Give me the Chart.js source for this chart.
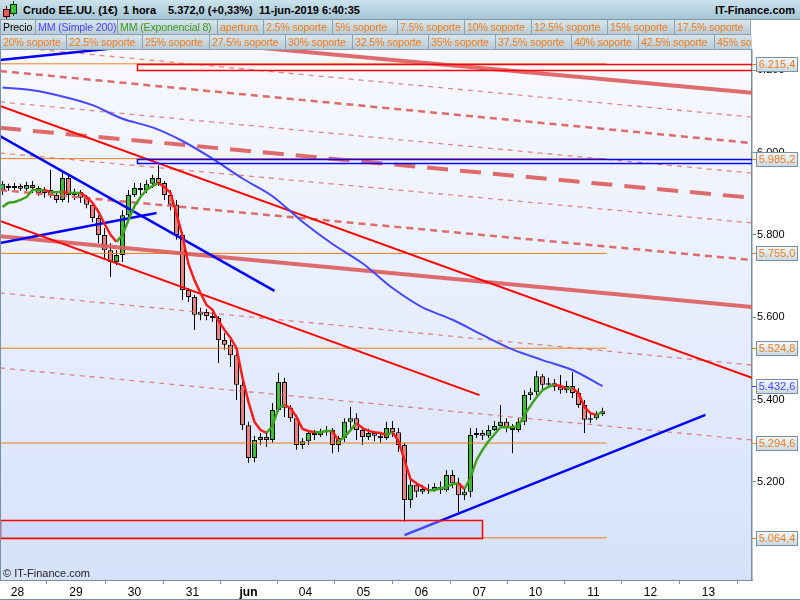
<!DOCTYPE html>
<html>
<head>
<meta charset="utf-8">
<script src="https://cdn.jsdelivr.net/npm/chart.js@4.4.0/dist/chart.umd.min.js"></script>
<style>
  body { margin: 0; background: #fff; font-family: "Liberation Sans", Arial, sans-serif; }
  #wrap { position: relative; width: 800px; height: 600px; overflow: hidden; }
  #c { position: absolute; left: 0; top: 0; }
  #top { position: absolute; left: 0; top: 0; width: 800px; height: 19px; border-bottom: 1px solid #7d96a6;
         background: linear-gradient(#cbe2ec, #a6c5d5); z-index: 2; font-weight: bold; font-size: 11px; color: #000; }
  #top span { position: absolute; top: 4px; white-space: nowrap; }
  #top i { position: absolute; display: block; box-sizing: border-box; }
  .row { position: absolute; left: 0; width: 752px; height: 15px; overflow: hidden; white-space: nowrap;
         z-index: 2; font-size: 10.6px; letter-spacing: -0.15px; border-left: 1px solid #8aa1b0; box-sizing: border-box; }
  .row span { display: inline-block; box-sizing: border-box; height: 15px; line-height: 14px; padding-left: 2px;
              border-right: 1px solid #8aa1b0; border-bottom: 1px solid #8aa1b0;
              background: linear-gradient(#d8e5ec, #b8cbd6); vertical-align: top; overflow: hidden; color: #f07d1e; }
</style>
</head>
<body>
<div id="wrap">
  <div id="top">
    <i style="left:6px;top:6px;width:1px;height:13px;background:#500"></i>
    <i style="left:3px;top:9px;width:7px;height:8px;background:#e25a5a;border:1px solid #400"></i>
    <i style="left:13px;top:1px;width:1px;height:15px;background:#040"></i>
    <i style="left:10px;top:4px;width:7px;height:10px;background:#3cc43c;border:1px solid #030"></i>
    <span style="left:23px">Crudo EE.UU. (1€)</span>
    <span style="left:123px">1 hora</span>
    <span style="left:168px">5.372,0 (+0,33%)</span>
    <span style="left:259px">11-jun-2019 6:40:35</span>
    <span style="right:5px">IT-Finance.com</span>
  </div>
  <div class="row" style="top:20px">
    <span style="width:35px;color:#000">Precio</span><span style="width:82px;color:#4646ff">MM (Simple 200)</span><span style="width:100px;color:#3c9a1e">MM (Exponencial 8)</span><span style="width:46px">apertura</span><span style="width:69px">2.5% soporte</span><span style="width:65px">5% soporte</span><span style="width:67px">7.5% soporte</span><span style="width:67px">10% soporte</span><span style="width:76px">12.5% soporte</span><span style="width:67px">15% soporte</span><span style="width:76px">17.5% soporte</span>
  </div>
  <div class="row" style="top:35px">
    <span style="width:66px">20% soporte</span><span style="width:76px">22.5% soporte</span><span style="width:67px">25% soporte</span><span style="width:76px">27.5% soporte</span><span style="width:67px">30% soporte</span><span style="width:76px">32.5% soporte</span><span style="width:67px">35% soporte</span><span style="width:76px">37.5% soporte</span><span style="width:67px">40% soporte</span><span style="width:76px">42.5% soporte</span><span style="width:76px">45% soporte</span>
  </div>
  <canvas id="c" width="800" height="600"></canvas>
</div>
<script>
// hourly candles, one entry per bar (bar index = x value)
const opens = [
  5909,5919,5914,5919,5912,5921,5914,5902,5909,5897,
  5885,5938,5897,5904,5890,5873,5841,5800,5763,5734,
  5751,5848,5897,5914,5909,5924,5938,5926,5897,5873,
  5800,5666,5649,5606,5613,5603,5598,5545,5533,5508,
  5436,5338,5258,5302,5309,5302,5375,5443,5380,5355,
  5290,5299,5319,5314,5321,5326,5290,5307,5346,5355,
  5326,5309,5319,5312,5307,5331,5321,5290,5156,5193,
  5176,5183,5180,5188,5180,5217,5197,5168,5176,5314,
  5319,5312,5326,5336,5346,5331,5326,5346,5411,5418,
  5457,5436,5440,5431,5423,5433,5416,5387,5351,5355,
  5365];
const highs = [
  5931,5924,5926,5924,5929,5931,5919,5916,5958,5904,
  5953,5943,5912,5909,5897,5878,5848,5817,5780,5763,
  5860,5909,5926,5926,5933,5946,5970,5931,5909,5885,
  5807,5671,5654,5623,5620,5613,5603,5562,5552,5521,
  5448,5346,5312,5319,5321,5392,5465,5453,5387,5363,
  5307,5326,5326,5329,5336,5331,5312,5355,5382,5367,
  5331,5329,5324,5321,5346,5348,5331,5295,5205,5200,
  5193,5195,5197,5202,5229,5229,5210,5185,5331,5331,
  5326,5338,5348,5387,5355,5341,5355,5423,5428,5470,
  5462,5453,5450,5460,5445,5467,5428,5399,5365,5372,
  5380];
const lows = [
  5897,5907,5909,5907,5907,5902,5895,5890,5890,5878,
  5880,5878,5885,5878,5865,5831,5780,5744,5698,5727,
  5734,5841,5892,5895,5902,5914,5919,5885,5860,5788,
  5642,5637,5569,5593,5593,5589,5489,5521,5479,5399,
  5326,5246,5248,5290,5285,5295,5370,5358,5346,5278,
  5280,5290,5302,5309,5312,5270,5273,5297,5326,5302,
  5290,5302,5299,5295,5302,5309,5273,5103,5137,5163,
  5171,5171,5176,5171,5176,5185,5127,5156,5163,5307,
  5302,5307,5324,5331,5321,5270,5321,5338,5399,5411,
  5421,5428,5421,5414,5416,5404,5380,5319,5343,5351,
  5360];
const closes = [
  5924,5914,5919,5912,5921,5914,5902,5909,5897,5885,
  5938,5897,5904,5890,5873,5841,5800,5763,5734,5751,
  5848,5897,5914,5909,5924,5938,5926,5897,5873,5800,
  5666,5649,5606,5613,5603,5598,5545,5533,5508,5436,
  5338,5258,5302,5309,5302,5375,5443,5380,5355,5290,
  5299,5319,5314,5321,5326,5290,5307,5346,5355,5326,
  5309,5319,5312,5307,5331,5321,5290,5156,5193,5176,
  5183,5180,5188,5180,5217,5197,5168,5176,5314,5319,
  5312,5326,5336,5346,5331,5326,5346,5411,5418,5457,
  5436,5440,5431,5423,5433,5416,5387,5351,5355,5365,
  5372];

// MM (Exponencial 8), one value per bar
const ema8 = [
  5868,5878,5880,5885,5892,5909,5909,5909,5904,5904,
  5904,5902,5902,5902,5892,5878,5856,5827,5800,5783,
  5800,5836,5870,5892,5909,5919,5926,5916,5902,5851,
  5797,5729,5690,5659,5630,5618,5591,5569,5550,5525,
  5453,5394,5346,5326,5319,5336,5380,5387,5380,5358,
  5329,5324,5321,5321,5324,5324,5299,5309,5326,5343,
  5331,5324,5321,5319,5314,5321,5299,5253,5207,5197,
  5188,5180,5180,5185,5188,5195,5197,5183,5210,5253,
  5278,5299,5316,5333,5333,5333,5336,5363,5385,5406,
  5423,5431,5436,5433,5428,5428,5416,5382,5367,5363,
  5370];

// MM (Simple 200), read every 5 bars
const maBars = [0,5,10,15,20,25,30,35,40,45,50,55,60,65,70,75,80,85,90,95,100];
const ma200 = [6158,6151,6136,6115,6082,6061,6028,5985,5937,5894,5832,5778,5731,5671,5624,5594,5557,5522,5496,5472,5432.6];

// x axis
const dayTickPos = [2.5,12.25,22,31.67,41,50.5,60.17,69.83,79.5,88.83,98.5,108,117.67];
const dayLabels = ['28','29','30','31','jun','04','05','06','07','10','11','12','13'];
const yTicks = [5200,5400,5600,5800,6000,6200];

// support levels
const levels = [6215.4,5985.2,5755.0,5524.8,5294.6,5064.4];

// descending channel, value at left edge and right edge
const channelLeft  = [6312,6259,6198,6123,6060,5999,5909,5797,5659,5477];
const channelRight = [6145,6086,6023,5950,5890,5829,5739,5625,5484,5302];
const channelKind  = ['thick','thin','medium','thin','heavy','thin','medium','thick','thin','thin'];

// trend lines [x1, y1, x2, y2]
const redLines  = [[-0.42,6113,124.92,5453],[-0.42,5834,79.5,5411]];
const blueLines = [[-0.42,6225,21.17,6257],[-0.42,6040,45.33,5664],[-0.42,5780,25.67,5853],[67,5071,117.17,5363]];

// zones
const zoneX1 = [22.4,22.4,-0.42];
const zoneX2 = [124.92,124.92,80];
const zoneLo = [6200.6,5975.0,5064.4];
const zoneHi = [6215.4,5985.2,5107.6];

const xMin = -0.42, xMax = 124.92;
const lastBar = 100.67;

const ORANGE = '#f07d1e';
const channelStyle = {
  thick:  { borderWidth: 4,   borderColor: 'rgba(220,92,92,0.9)',  borderDash: [] },
  thin:   { borderWidth: 1.3, borderColor: 'rgba(222,105,105,0.8)', borderDash: [5,5] },
  medium: { borderWidth: 2.5, borderColor: 'rgba(220,92,92,0.9)',  borderDash: [7,5] },
  heavy:  { borderWidth: 4,   borderColor: 'rgba(220,92,92,0.9)',  borderDash: [21,12] }
};
const zoneStyle = [
  { stroke: '#ff0000', fill: null },
  { stroke: '#0000ff', fill: null },
  { stroke: '#ff0000', fill: 'rgba(185,200,255,0.35)' }
];

function fmt(v, d) {
  const parts = v.toFixed(d).split('.');
  const ip = parts[0].replace(/\B(?=(\d{3})+(?!\d))/g, '.');
  return parts[1] ? ip + ',' + parts[1] : ip;
}

function seg(x1, y1, x2, y2, style, order) {
  return Object.assign({
    type: 'line',
    data: [{ x: x1, y: y1 }, { x: x2, y: y2 }],
    pointRadius: 0,
    tension: 0,
    clip: 0,
    order: order
  }, style);
}

const datasets = [];

datasets.push({
  type: 'bar',
  data: lows.map((l, i) => ({ x: i, y: [l, highs[i]] })),
  backgroundColor: '#000',
  borderWidth: 0,
  barThickness: 1,
  grouped: false,
  inflateAmount: 0,
  order: 20
});
datasets.push({
  type: 'bar',
  data: opens.map((o, i) => ({ x: i, y: [o, closes[i]] })),
  backgroundColor: c => closes[c.dataIndex] >= opens[c.dataIndex] ? '#3cbd3c' : '#e88282',
  borderColor: '#000',
  borderWidth: 1,
  borderSkipped: false,
  barThickness: 5,
  minBarLength: 1,
  grouped: false,
  inflateAmount: 0,
  order: 19
});

levels.forEach(v => {
  datasets.push(seg(xMin, v, lastBar, v, { borderWidth: 1, borderColor: ORANGE }, 15));
});

channelLeft.forEach((v, i) => {
  datasets.push(seg(xMin, v, xMax, channelRight[i], channelStyle[channelKind[i]], 12));
});

redLines.forEach(l => {
  datasets.push(seg(l[0], l[1], l[2], l[3], { borderWidth: 2, borderColor: '#ff0000' }, 11));
});
blueLines.forEach(l => {
  datasets.push(seg(l[0], l[1], l[2], l[3], { borderWidth: 2.5, borderColor: '#0000ff' }, 11));
});

datasets.push({
  type: 'line',
  data: ma200.map((v, i) => ({ x: maBars[i], y: v })),
  borderColor: '#4646ff',
  borderWidth: 2,
  pointRadius: 0,
  tension: 0.3,
  clip: 0,
  order: 10
});

datasets.push({
  type: 'line',
  data: ema8.map((v, i) => ({ x: i, y: v })),
  borderColor: '#ff1c1c',
  borderWidth: 2.5,
  pointRadius: 0,
  tension: 0,
  clip: 0,
  segment: { borderColor: c => c.p1.parsed.y >= c.p0.parsed.y ? '#3fa21f' : '#ff1c1c' },
  order: 1
});

const framePlugin = {
  id: 'frame',
  beforeDraw(chart) {
    const { ctx, chartArea: a } = chart;
    ctx.save();
    ctx.fillStyle = '#fff';
    ctx.fillRect(0, 0, chart.width, chart.height);
    const g = ctx.createLinearGradient(0, a.top, 0, a.bottom);
    g.addColorStop(0, '#f8f9ff');
    g.addColorStop(1, '#d6e2fb');
    ctx.fillStyle = g;
    ctx.fillRect(a.left, a.top, a.right - a.left, a.bottom - a.top);
    ctx.restore();
  },
  afterDatasetsDraw(chart) {
    const { ctx, chartArea: a, scales: { x, y } } = chart;
    ctx.save();
    ctx.beginPath();
    ctx.rect(a.left, a.top, a.right - a.left, a.bottom - a.top);
    ctx.clip();
    zoneLo.forEach((lo, i) => {
      const x1 = Math.round(x.getPixelForValue(zoneX1[i])) + 0.5;
      const x2 = Math.round(x.getPixelForValue(zoneX2[i])) + 0.5;
      const y1 = Math.round(y.getPixelForValue(zoneHi[i])) + 0.5;
      const y2 = Math.round(y.getPixelForValue(lo)) + 0.5;
      if (zoneStyle[i].fill) {
        ctx.fillStyle = zoneStyle[i].fill;
        ctx.fillRect(x1, y1, x2 - x1, y2 - y1);
      }
      ctx.strokeStyle = zoneStyle[i].stroke;
      ctx.lineWidth = 1.5;
      ctx.strokeRect(x1, y1, x2 - x1, y2 - y1);
    });
    ctx.fillStyle = '#222';
    ctx.font = '11px "Liberation Sans", Arial, sans-serif';
    ctx.textBaseline = 'middle';
    ctx.fillText('\u00a9 IT-Finance.com', a.left + 3, a.bottom - 6);
    ctx.restore();
  },
  afterDraw(chart) {
    const { ctx, chartArea: a, scales: { y } } = chart;
    ctx.save();
    ctx.strokeStyle = '#7890a0';
    ctx.lineWidth = 1;
    ctx.beginPath();
    ctx.moveTo(0.5, a.top); ctx.lineTo(0.5, a.bottom);
    ctx.moveTo(0, chart.height - 0.5); ctx.lineTo(chart.width, chart.height - 0.5);
    ctx.stroke();

    const box = (v, color) => {
      const py = Math.round(y.getPixelForValue(v));
      ctx.strokeStyle = color;
      ctx.beginPath();
      ctx.moveTo(a.right, py + 0.5); ctx.lineTo(a.right + 5, py + 0.5);
      ctx.stroke();
      const bx = a.right + 4.5, by = py - 6.5, bw = 41, bh = 14;
      const g = ctx.createLinearGradient(0, by, 0, by + bh);
      g.addColorStop(0, '#f4f8fb');
      g.addColorStop(1, '#c9d9e5');
      ctx.fillStyle = g;
      ctx.fillRect(bx, by, bw, bh);
      ctx.strokeStyle = '#7890a0';
      ctx.strokeRect(bx, by, bw, bh);
      ctx.fillStyle = color;
      ctx.font = '11px "Liberation Sans", Arial, sans-serif';
      ctx.textAlign = 'center';
      ctx.textBaseline = 'middle';
      ctx.fillText(fmt(v, 1), bx + bw / 2, py + 1);
    };
    levels.forEach(v => box(v, ORANGE));
    box(ma200[ma200.length - 1], '#4646ff');
    ctx.restore();
  }
};

Chart.defaults.font.family = '"Liberation Sans", Arial, sans-serif';

new Chart(document.getElementById('c'), {
  type: 'bar',
  data: { datasets: datasets },
  plugins: [framePlugin],
  options: {
    responsive: false,
    animation: false,
    events: [],
    layout: { padding: { top: 50, left: 0, right: 0, bottom: 0 } },
    plugins: { legend: { display: false }, tooltip: { enabled: false } },
    scales: {
      x: {
        type: 'linear',
        min: xMin,
        max: xMax,
        offset: false,
        afterFit: s => { s.height = 20; },
        afterBuildTicks: s => { s.ticks = dayTickPos.map(v => ({ value: v })); },
        border: { color: '#7890a0', width: 1 },
        grid: { drawOnChartArea: false, drawTicks: true, tickLength: 4, color: '#7890a0' },
        ticks: {
          autoSkip: false,
          maxRotation: 0,
          padding: 1,
          color: '#000',
          font: c => ({ size: 12, weight: dayLabels[c.index] === 'jun' ? 'bold' : 'normal' }),
          callback: (v, i) => dayLabels[i]
        }
      },
      y: {
        type: 'linear',
        position: 'right',
        min: 4962,
        max: 6249,
        afterFit: s => { s.width = 48; },
        afterBuildTicks: s => { s.ticks = yTicks.map(v => ({ value: v })); },
        border: { color: '#7890a0', width: 1.5 },
        grid: { drawOnChartArea: false, drawTicks: true, tickLength: 4, color: '#7890a0' },
        ticks: {
          padding: 1,
          color: '#000',
          font: { size: 11 },
          callback: v => fmt(v, 0)
        }
      }
    }
  }
});
</script>
</body>
</html>
